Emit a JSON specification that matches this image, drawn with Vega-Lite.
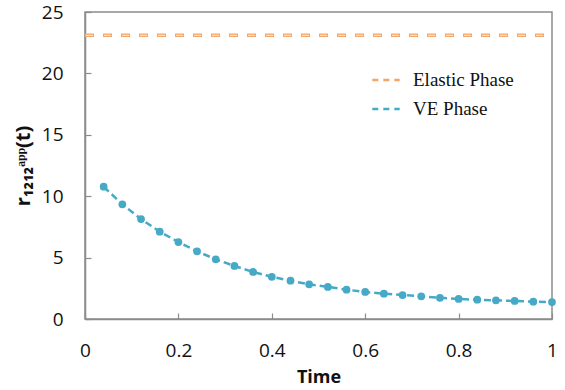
{
  "$schema": "https://vega.github.io/schema/vega-lite/v6.json",
  "width": 467,
  "height": 307,
  "autosize": {"type": "none"},
  "padding": {"left": 85, "top": 12, "right": 13, "bottom": 71},
  "background": "white",
  "config": {
    "view": {"stroke": "#8c8c8c", "strokeWidth": 1.5},
    "axis": {
      "grid": false,
      "domainColor": "#8c8c8c",
      "domainWidth": 1.5,
      "tickColor": "#8c8c8c",
      "tickWidth": 1.2,
      "labelFont": "Open Sans",
      "labelFontSize": 19,
      "labelColor": "#111",
      "titleFont": "Open Sans",
      "titleFontSize": 18,
      "titleFontWeight": "bold",
      "titleColor": "#111"
    }
  },
  "datasets": {
    "ve": [
      {"t": 0.04, "r": 10.77, "series": "VE Phase"},
      {"t": 0.08, "r": 9.34, "series": "VE Phase"},
      {"t": 0.12, "r": 8.14, "series": "VE Phase"},
      {"t": 0.16, "r": 7.11, "series": "VE Phase"},
      {"t": 0.20, "r": 6.27, "series": "VE Phase"},
      {"t": 0.24, "r": 5.51, "series": "VE Phase"},
      {"t": 0.28, "r": 4.86, "series": "VE Phase"},
      {"t": 0.32, "r": 4.32, "series": "VE Phase"},
      {"t": 0.36, "r": 3.83, "series": "VE Phase"},
      {"t": 0.40, "r": 3.44, "series": "VE Phase"},
      {"t": 0.44, "r": 3.12, "series": "VE Phase"},
      {"t": 0.48, "r": 2.82, "series": "VE Phase"},
      {"t": 0.52, "r": 2.61, "series": "VE Phase"},
      {"t": 0.56, "r": 2.39, "series": "VE Phase"},
      {"t": 0.60, "r": 2.20, "series": "VE Phase"},
      {"t": 0.64, "r": 2.06, "series": "VE Phase"},
      {"t": 0.68, "r": 1.95, "series": "VE Phase"},
      {"t": 0.72, "r": 1.85, "series": "VE Phase"},
      {"t": 0.76, "r": 1.73, "series": "VE Phase"},
      {"t": 0.80, "r": 1.63, "series": "VE Phase"},
      {"t": 0.84, "r": 1.57, "series": "VE Phase"},
      {"t": 0.88, "r": 1.52, "series": "VE Phase"},
      {"t": 0.92, "r": 1.47, "series": "VE Phase"},
      {"t": 0.96, "r": 1.41, "series": "VE Phase"},
      {"t": 1.00, "r": 1.38, "series": "VE Phase"}
    ],
    "el": [
      {"t": 0, "r": 23.1, "series": "Elastic Phase"},
      {"t": 1, "r": 23.1, "series": "Elastic Phase"}
    ]
  },
  "encoding": {
    "x": {
      "field": "t", "type": "quantitative",
      "scale": {"domain": [0, 1], "nice": false},
      "axis": {"title": "Time", "values": [0, 0.2, 0.4, 0.6, 0.8, 1], "format": "~g", "tickSize": -6, "labelPadding": 28, "titlePadding": 8, "labelFlush": false}
    },
    "y": {
      "field": "r", "type": "quantitative",
      "scale": {"domain": [0, 25], "nice": false},
      "axis": {"title": "r₁₂₁₂ᵃᵖᵖ(t)", "titleFontSize": 20, "values": [0, 5, 10, 15, 20, 25], "tickSize": -6, "labelPadding": 28, "titlePadding": 8, "labelFlush": false}
    },
    "color": {
      "field": "series", "type": "nominal",
      "scale": {"domain": ["Elastic Phase", "VE Phase"], "range": ["#F5A566", "#46AAC6"]},
      "legend": {
        "title": null,
        "orient": "none",
        "legendX": 286,
        "legendY": 53,
        "symbolType": "stroke",
        "symbolSize": 750,
        "symbolStrokeWidth": 2.5,
        "symbolDash": [6, 5],
        "labelFont": "Liberation Serif",
        "labelFontSize": 19,
        "labelColor": "#111",
        "rowPadding": 4,
        "labelOffset": 12
      }
    }
  },
  "layer": [
    {
      "data": {"name": "el"},
      "mark": {"type": "line", "strokeWidth": 3.5, "strokeDash": [9, 9], "clip": true}
    },
    {
      "data": {"name": "el"},
      "mark": {"type": "line", "strokeWidth": 1.3, "strokeDash": [7, 11], "strokeDashOffset": -1, "color": "#FDE0C6", "clip": true},
      "encoding": {"color": {"value": "#FDE0C6"}}
    },
    {
      "data": {"name": "ve"},
      "mark": {"type": "line", "strokeWidth": 2.5, "strokeDash": [7, 4]}
    },
    {
      "data": {"name": "ve"},
      "mark": {"type": "point", "filled": true, "size": 60, "opacity": 1}
    }
  ]
}
